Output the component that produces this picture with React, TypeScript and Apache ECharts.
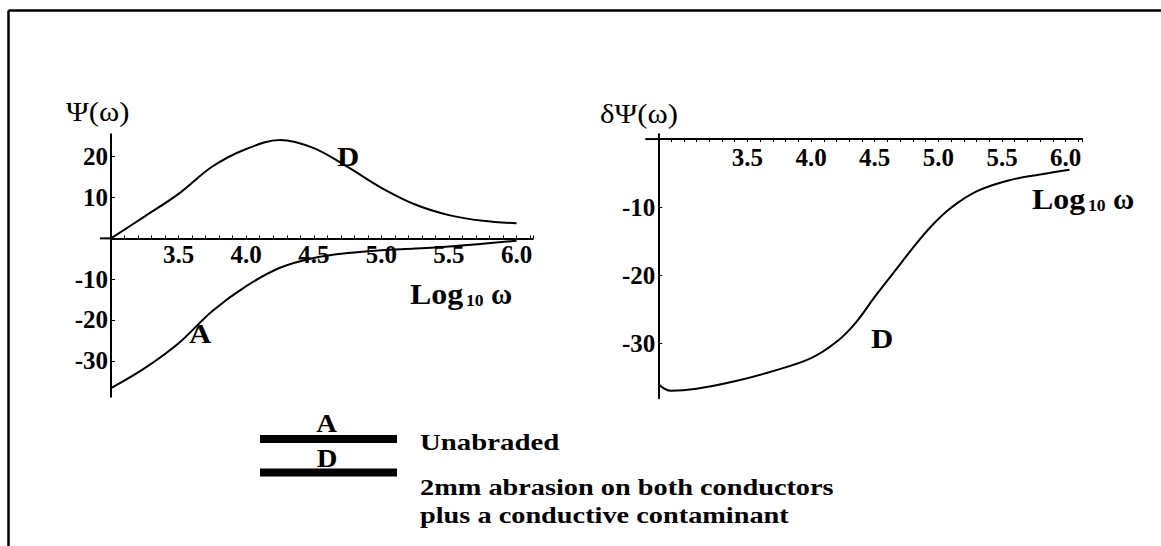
import React, { useEffect, useRef } from "react";
import * as echarts from "echarts";

// Left panel: Psi(omega) vs log10(omega)
const psiX = [3.0, 3.25, 3.5, 3.75, 4.0, 4.25, 4.5, 4.75, 5.0, 5.25, 5.5, 5.75, 6.0];
const psiD = [0, 5.4, 10.9, 17.6, 21.9, 24.1, 22.1, 17.5, 12.4, 8.3, 5.7, 4.3, 3.7];
const psiA = [-36.7, -31.8, -25.7, -17.8, -11.7, -7.2, -4.8, -3.6, -2.9, -2.5, -2.0, -1.3, -0.6];

// Right panel: delta Psi(omega)
const dpsiX = [2.8, 2.9, 3.1, 3.4, 3.7, 4.0, 4.2, 4.35, 4.5, 4.65, 4.8, 4.95, 5.1, 5.3, 5.55, 5.8, 6.03];
const dpsiD = [-36.0, -37.0, -36.7, -35.6, -34.1, -32.2, -29.8, -27.0, -23.2, -19.6, -16.0, -12.7, -10.1, -7.7, -6.1, -5.2, -4.5];

const xTickLabels = [3.5, 4.0, 4.5, 5.0, 5.5, 6.0];
const leftYTicks = [-30, -20, -10, 10, 20];
const rightYTicks = [-30, -20, -10];

const legendLabels = ["A", "D"];
const legendTexts = ["Unabraded", "2mm abrasion on both conductors", "plus a conductive contaminant"];

const SERIF = "'Liberation Serif', 'Times New Roman', serif";

export default function App() {
  const ref = useRef<HTMLDivElement>(null);
  useEffect(() => {
    document.body.style.margin = "0";
    const chart = echarts.init(ref.current!, null, { renderer: "svg" });
    const tickLabel = {
      fontFamily: SERIF,
      fontWeight: "bold" as const,
      fontSize: 25,
      color: "#000",
    };
    const axisLine = { lineStyle: { color: "#000", width: 2 } };

    const L = { left: 111, top: 134.3, width: 421.8, height: 262.4, xmin: 3.0, xmax: 6.12, ymin: -38.8, ymax: 25.5 };
    const R = { left: 658.3, top: 134.3, width: 423.9, height: 264, xmin: 2.8, xmax: 6.13, ymin: -38.1, ymax: 0.7 };

    const mkX = (gi: number, g: any, pos: "top" | "bottom") => ({
      gridIndex: gi,
      type: "value" as const,
      min: g.xmin,
      max: g.xmax,
      interval: 0.1,
      position: pos,
      offset:
        pos === "bottom"
          ? -((0 - g.ymin) / (g.ymax - g.ymin)) * g.height
          : -((g.ymax - 0) / (g.ymax - g.ymin)) * g.height,
      axisLine: { ...axisLine, onZero: false },
      axisTick: { show: true, length: 3, inside: true, lineStyle: { color: "#000", width: 1 } },
      axisLabel: {
        ...tickLabel,
        margin: pos === "bottom" ? 4 : 6,
        inside: pos === "top",
        customValues: xTickLabels,
        formatter: (v: number) => v.toFixed(1),
      },
      splitLine: { show: false },
    });
    const mkY = (gi: number, g: any, ticks: number[]) => ({
      gridIndex: gi,
      type: "value" as const,
      min: g.ymin,
      max: g.ymax,
      position: "left" as const,
      axisLine: { ...axisLine, onZero: false },
      axisTick: { show: true, length: 4, inside: true, customValues: ticks, lineStyle: { color: "#000", width: 1 } },
      axisLabel: { ...tickLabel, margin: 3, customValues: ticks, formatter: (v: number) => String(v) },
      splitLine: { show: false },
    });
    const lineStyle = { color: "#000", width: 2 };
    chart.setOption({
      animation: false,
      backgroundColor: "#fff",
      grid: [
        { left: L.left, top: L.top, width: L.width, height: L.height },
        { left: R.left, top: R.top, width: R.width, height: R.height },
      ],
      xAxis: [mkX(0, L, "bottom"), mkX(1, R, "top")],
      yAxis: [mkY(0, L, leftYTicks), mkY(1, R, rightYTicks)],
      series: [
        {
          type: "line", name: "D", xAxisIndex: 0, yAxisIndex: 0,
          data: psiX.map((x, i) => [x, psiD[i]]),
          smooth: 0.35, showSymbol: false, lineStyle,
        },
        {
          type: "line", name: "A", xAxisIndex: 0, yAxisIndex: 0,
          data: psiX.map((x, i) => [x, psiA[i]]),
          smooth: 0.35, showSymbol: false, lineStyle,
        },
        {
          type: "line", name: "dD", xAxisIndex: 1, yAxisIndex: 1,
          data: dpsiX.map((x, i) => [x, dpsiD[i]]),
          smooth: 0.4, showSymbol: false, lineStyle,
        },
      ],
    });

    const p0 = chart.convertToPixel({ gridIndex: 0 }, [L.xmin, 0]) as number[];
    const p1 = chart.convertToPixel({ gridIndex: 1 }, [R.xmin, 0]) as number[];

    const txt = (
      text: string, x: number, y: number, size: number, bold: boolean,
      sx = 1.12, align = "left"
    ) => ({
      type: "text",
      x, y: y - 0.05 * size, scaleX: sx,
      style: {
        text, x: 0, y: 0,
        fontFamily: SERIF, fontSize: size, fontWeight: bold ? "bold" : "normal",
        fill: "#000", textAlign: align, align, textVerticalAlign: "middle", verticalAlign: "middle",
      },
    });

    const graphic: any[] = [
      // frame
      { type: "line", shape: { x1: 8.5, y1: 10.5, x2: 8.5, y2: 546 }, style: { stroke: "#000", lineWidth: 2.5 } },
      { type: "line", shape: { x1: 8.5, y1: 10.5, x2: 1161, y2: 10.5 }, style: { stroke: "#000", lineWidth: 2.5 } },
      // axis overhangs
      { type: "line", shape: { x1: p0[0] - 11, y1: p0[1], x2: p0[0], y2: p0[1] }, style: { stroke: "#000", lineWidth: 2 } },
      { type: "line", shape: { x1: p1[0] - 13, y1: p1[1], x2: p1[0], y2: p1[1] }, style: { stroke: "#000", lineWidth: 2 } },
      // axis titles
      txt("Ψ(ω)", 66, 112.5, 28, false, 1.1),
      txt("δΨ(ω)", 600, 115, 28, false, 1.1),
      txt("Log", 410, 295.5, 29, true, 1.1),
      txt("10", 466, 301.5, 16, true, 1.1),
      txt("ω", 491, 295.5, 29, true, 1.0),
      txt("Log", 1032, 200.5, 29, true, 1.1),
      txt("10", 1088, 206.5, 16, true, 1.1),
      txt("ω", 1113, 200.5, 29, true, 1.0),
      // curve labels
      txt("D", 348, 158, 28, true, 1.1, "center"),
      txt("A", 200, 335, 28, true, 1.1, "center"),
      txt("D", 882, 340, 28, true, 1.1, "center"),
      // legend
      { type: "rect", shape: { x: 260, y: 435, width: 137, height: 8 }, style: { fill: "#000" } },
      { type: "rect", shape: { x: 260, y: 468.5, width: 137, height: 8 }, style: { fill: "#000" } },
      txt(legendLabels[0], 326.5, 425, 26, true, 1.1, "center"),
      txt(legendLabels[1], 327, 460, 26, true, 1.1, "center"),
      txt(legendTexts[0], 420, 443, 24, true, 1.2),
      txt(legendTexts[1], 420, 488, 24, true, 1.18),
      txt(legendTexts[2], 420, 516, 24, true, 1.18),
    ];
    chart.setOption({ graphic });

    return () => chart.dispose();
  }, []);
  return (
    <div
      ref={ref}
      style={{ position: "fixed", left: 0, top: 0, width: 1161, height: 546 }}
    />
  );
}
